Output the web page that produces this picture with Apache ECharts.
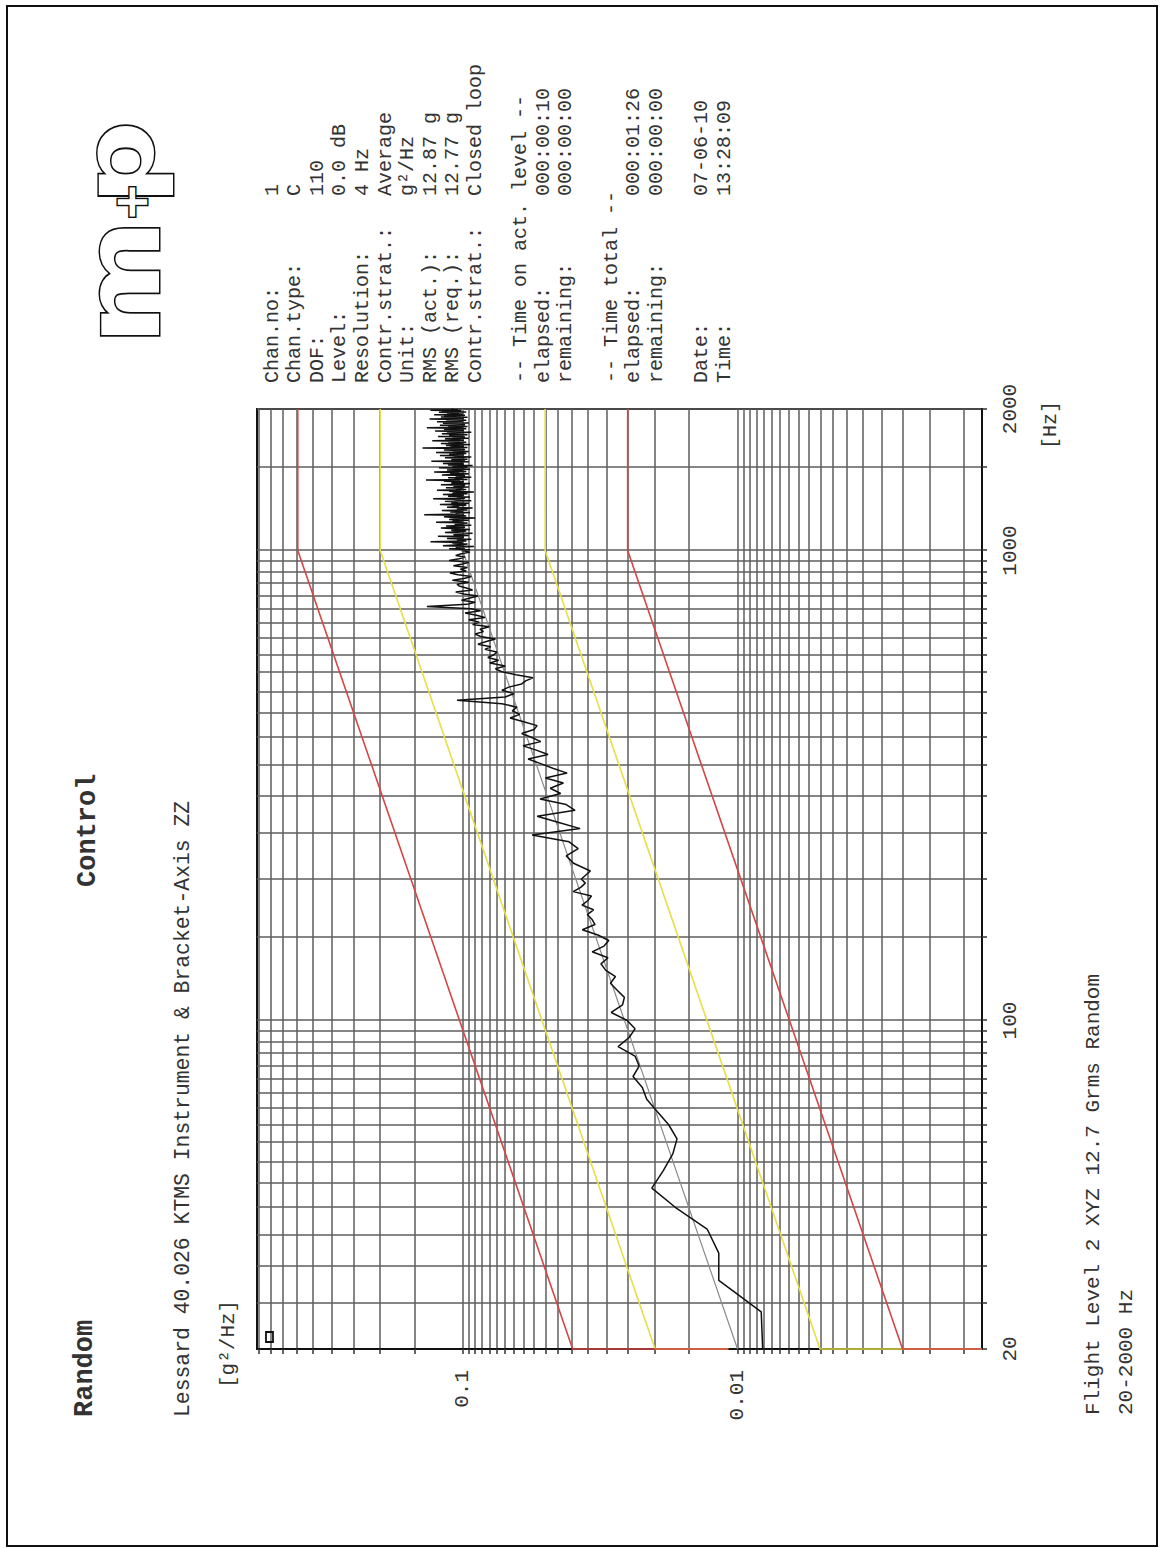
<!DOCTYPE html>
<html>
<head>
<meta charset="utf-8">
<title>Control – Random</title>
<script src="https://cdn.jsdelivr.net/npm/echarts@6/dist/echarts.min.js"></script>
<style>
  html, body { margin: 0; padding: 0; width: 1160px; height: 1548px; overflow: hidden; background: #fff; }
  /* the report sheet is laid out in landscape and turned onto the portrait page */
  #sheet {
    position: absolute; left: 0; top: 0;
    width: 1548px; height: 1160px;
    transform-origin: 0 0;
    transform: translate(0px, 1548px) rotate(-90deg);
  }
</style>
</head>
<body>
<div id="sheet"></div>
<script>
// ---- axes ----
const FREQ_MIN = 20, FREQ_MAX = 2000;          // Hz
const PSD_MIN = 0.00129, PSD_MAX = 0.56;       // g²/Hz

const freqGrid = [20, 25, 30, 35, 40, 45, 50, 55, 60, 65, 70, 75, 80, 85, 90, 95, 100,
  150, 200, 250, 300, 350, 400, 450, 500, 550, 600, 650, 700, 750, 800, 850, 900, 950, 1000,
  1500, 2000];
const freqTickLabels = [20, 100, 1000, 2000];

const psdGrid = [0.0015, 0.002, 0.0025, 0.003, 0.0035, 0.004, 0.0045, 0.005, 0.0055, 0.006,
  0.0065, 0.007, 0.0075, 0.008, 0.0085, 0.009, 0.0095,
  0.01, 0.015, 0.02, 0.025, 0.03, 0.035, 0.04, 0.045, 0.05, 0.055, 0.06, 0.065, 0.07, 0.075,
  0.08, 0.085, 0.09, 0.095,
  0.1, 0.15, 0.2, 0.25, 0.3, 0.35, 0.4, 0.45, 0.5, 0.55];
const psdTickLabels = [0.01, 0.1];

// ---- reference profile and tolerance bands ----
const refFreq = [20, 1000, 2000];
const refPsd = [0.01, 0.1, 0.1];

const limitFreq = [20, 20, 1000, 2000];
const abortHigh = [0.0108, 0.0398, 0.398, 0.398];
const alarmHigh = [0.0108, 0.01995, 0.1995, 0.1995];
const alarmLow = [PSD_MIN, 0.00501, 0.0501, 0.0501];
const abortLow = [PSD_MIN, 0.00251, 0.0251, 0.0251];

// ---- measured control spectrum ----
const lowFreq = [20, 24, 28, 32, 36, 40, 44, 48, 52, 56, 60, 64, 68, 72, 76, 80, 84, 88, 92, 96,
  100, 104, 108, 112, 116, 120, 124, 128, 132, 136, 140, 144, 148, 152, 156, 160, 164, 168,
  172, 176, 180, 184, 188, 192, 196];
const lowPsd = [0.0081, 0.0082, 0.0117, 0.0117, 0.0129, 0.0168, 0.0205, 0.0186, 0.0172, 0.0166,
  0.0178, 0.0196, 0.0214, 0.0222, 0.0240, 0.0228, 0.0236, 0.0272, 0.0248, 0.0236,
  0.0252, 0.0288, 0.0262, 0.0258, 0.0274, 0.0290, 0.0278, 0.0302, 0.0314, 0.0296,
  0.0338, 0.0306, 0.0294, 0.0322, 0.0367, 0.0330, 0.0338, 0.0352, 0.0334, 0.0368,
  0.0350, 0.0340, 0.0396, 0.0372, 0.0358];

// 200 … 600 Hz, 8 Hz line spacing
const midStart = 200, midStep = 8;
const midPsd = [0.0370, 0.0343, 0.0395, 0.0420, 0.0380, 0.0410, 0.0559, 0.0374, 0.0450, 0.0536,
  0.0390, 0.0420, 0.0523, 0.0440, 0.0480, 0.0430, 0.0500, 0.0417, 0.0470, 0.0520,
  0.0578, 0.0489, 0.0540, 0.0603, 0.0520, 0.0560, 0.0610, 0.0550, 0.0536, 0.0600,
  0.0672, 0.0620, 0.0660, 0.0634, 0.0720, 0.1048, 0.0700, 0.0650, 0.0720, 0.0680,
  0.0610, 0.0590, 0.0555, 0.0640, 0.0720, 0.0760, 0.0700, 0.0796, 0.0740, 0.0810,
  0.0770];

// 608 … 992 Hz, 8 Hz line spacing
const upStart = 608, upStep = 8;
const upPsd = [
  0.0750, 0.0830, 0.0790, 0.0880, 0.0820, 0.0760, 0.0860, 0.0900, 0.0840, 0.0865,
  0.0800, 0.0920, 0.0870, 0.0950, 0.0830, 0.0890, 0.0980, 0.0860, 0.0930, 0.1349,
  0.0965, 0.0900, 0.1010, 0.0940, 0.0880, 0.0990, 0.1060, 0.0920, 0.0970, 0.1030,
  0.1048, 0.0950, 0.1090, 0.0990, 0.0930, 0.1040, 0.1113, 0.0970, 0.1020, 0.0960,
  0.1080, 0.1000, 0.0950, 0.1120, 0.1030, 0.0980, 0.1060, 0.1010, 0.0940];

// 1000 … 2000 Hz, 4 Hz line spacing
const topStart = 1000, topStep = 4;
const topPsd = [
  0.1010, 0.0940, 0.1120, 0.0980, 0.1060, 0.0910, 0.1180, 0.1020, 0.0960, 0.1090,
  0.1000, 0.1310, 0.0970, 0.1050, 0.0930, 0.1140, 0.1010, 0.0990, 0.1230, 0.0950,
  0.1080, 0.1020, 0.0920, 0.1160, 0.1040, 0.0970, 0.1100, 0.0940, 0.1060, 0.1200,
  0.0980, 0.1030, 0.1150, 0.0930, 0.1070, 0.1010, 0.0960, 0.1250, 0.1000, 0.1090,
  0.0950, 0.1120, 0.1040, 0.0900, 0.1080, 0.1170, 0.0970, 0.1030, 0.1380, 0.0990,
  0.1060, 0.0940, 0.1110, 0.1000, 0.1190, 0.0960, 0.1050, 0.1010, 0.0920, 0.1140,
  0.1030, 0.1090, 0.0970, 0.1210, 0.1000, 0.0950, 0.1100, 0.1040, 0.1160, 0.0930,
  0.1070, 0.1010, 0.1280, 0.0980, 0.1050, 0.0940, 0.1130, 0.1020, 0.0990, 0.1180,
  0.0960, 0.1090, 0.1040, 0.0910, 0.1120, 0.1010, 0.1240, 0.0970, 0.1060, 0.1000,
  0.1150, 0.0950, 0.1080, 0.1030, 0.0980, 0.1200, 0.1010, 0.0940, 0.1100, 0.1050,
  0.0990, 0.1170, 0.1020, 0.1360, 0.0960, 0.1070, 0.1000, 0.1130, 0.0930, 0.1060,
  0.1040, 0.0980, 0.1190, 0.1010, 0.0950, 0.1110, 0.1030, 0.1270, 0.0970, 0.1080,
  0.1000, 0.1140, 0.0940, 0.1060, 0.1020, 0.1220, 0.0960, 0.1090, 0.1010, 0.0920,
  0.1130, 0.1040, 0.0990, 0.1180, 0.1000, 0.1070, 0.0950, 0.1300, 0.1020, 0.0980,
  0.1100, 0.0960, 0.1050, 0.1010, 0.1160, 0.0930, 0.1080, 0.1030, 0.1210, 0.0990,
  0.1060, 0.1120, 0.0970, 0.1040, 0.1250, 0.1000, 0.0950, 0.1090, 0.1020, 0.1170,
  0.0980, 0.1070, 0.1010, 0.1400, 0.0960, 0.1110, 0.1030, 0.0990, 0.1150, 0.1040,
  0.0940, 0.1080, 0.1200, 0.1000, 0.1060, 0.0970, 0.1130, 0.1020, 0.1290, 0.0990,
  0.1050, 0.1010, 0.1160, 0.0950, 0.1090, 0.1030, 0.0980, 0.1230, 0.1000, 0.1070,
  0.1120, 0.0960, 0.1040, 0.1190, 0.1010, 0.1080, 0.0930, 0.1140, 0.1030, 0.1260,
  0.0990, 0.1060, 0.1020, 0.1170, 0.0970, 0.1100, 0.1350, 0.1000, 0.1050, 0.0960,
  0.1130, 0.1040, 0.1210, 0.0980, 0.1070, 0.1010, 0.1180, 0.0950, 0.1090, 0.1030,
  0.1240, 0.1000, 0.1060, 0.0970, 0.1150, 0.1020, 0.1320, 0.0990, 0.1080, 0.1110,
  0.0960, 0.1200, 0.1040, 0.1010, 0.1170, 0.0980, 0.1270, 0.1050, 0.1000, 0.1140,
  0.1030, 0.1090, 0.1220, 0.0970, 0.1060, 0.1190, 0.1010, 0.1310, 0.1040, 0.1100,
  0.1080];

// ---- header / info block ----
const infoRows = [
  ['Chan.no:', '1'],
  ['Chan.type:', 'C'],
  ['DOF:', '110'],
  ['Level:', '0.0 dB'],
  ['Resolution:', '4 Hz'],
  ['Contr.strat.:', 'Average'],
  ['Unit:', 'g²/Hz'],
  ['RMS (act.):', '12.87 g'],
  ['RMS (req.):', '12.77 g'],
  ['Contr.strat.:', 'Closed loop'],
  null,
  ['-- Time on act. level --', ''],
  ['elapsed:', '000:00:10'],
  ['remaining:', '000:00:00'],
  null,
  ['-- Time total --', ''],
  ['elapsed:', '000:01:26'],
  ['remaining:', '000:00:00'],
  null,
  ['Date:', '07-06-10'],
  ['Time:', '13:28:09']
];

// ---- helpers ----
const lg = Math.log10;
const toPairs = (fs, ps) => ps.map((p, i) => [lg(fs[i]), lg(p)]);
const stepPairs = (start, step, ps) => ps.map((p, i) => [lg(start + step * i), lg(p)]);
const nearest = (v, list) => list.reduce((b, x) => Math.abs(lg(x) - v) < Math.abs(lg(b) - v) ? x : b);

const MONO = '"Liberation Mono", "DejaVu Sans Mono", monospace';
const INK = '#333';

function txt(text, x, y, size, opts) {
  opts = opts || {};
  return {
    type: 'text', silent: true, z: 10,
    style: {
      text: text, x: x, y: y,
      font: (opts.weight || 'normal') + ' ' + size + 'px ' + (opts.family || MONO),
      fill: opts.fill || INK,
      align: opts.align || 'left', textAlign: opts.align || 'left',
      verticalAlign: 'middle', textVerticalAlign: 'middle'
    }
  };
}

const graphics = [];
// sheet frame
graphics.push({ type: 'rect', silent: true, z: 0,
  shape: { x: 2, y: 7, width: 1540, height: 1150 },
  style: { fill: 'none', stroke: '#111', lineWidth: 2 } });

graphics.push(txt('Random', 131, 85, 27, { weight: 'bold' }));
graphics.push(txt('Control', 661, 88, 27, { weight: 'bold' }));
graphics.push(txt('Lessard 40.026 KTMS Instrument & Bracket-Axis ZZ', 131, 183, 21.4));
graphics.push(txt('[g²/Hz]', 160, 228, 21));
graphics.push(txt('[Hz]', 1123, 1050, 20, { align: 'center' }));
graphics.push(txt('Flight Level 2 XYZ 12.7 Grms Random', 133, 1093, 21));
graphics.push(txt('20-2000 Hz', 133, 1126, 21));

infoRows.forEach((row, i) => {
  if (!row) return;
  const y = 272 + 22.6 * i;
  graphics.push(txt(row[0], 1165, y, 20));
  if (row[1]) graphics.push(txt(row[1], 1352, y, 20));
});

// company mark
const LOGO = { fill: '#fff', stroke: '#111', lineWidth: 3 };
graphics.push({ type: 'text', silent: true, z: 10, x: 1203, y: 123, scaleX: 1.15,
  style: Object.assign({ text: 'm', x: 0, y: 0, font: 'bold 105px "DejaVu Sans"',
    align: 'left', textAlign: 'left', verticalAlign: 'middle', textVerticalAlign: 'middle' }, LOGO) });
graphics.push({ type: 'text', silent: true, z: 11, x: 1346, y: 131,
  style: Object.assign({ text: '+', x: 0, y: 0, font: 'bold 46px "DejaVu Sans"',
    align: 'center', textAlign: 'center', verticalAlign: 'middle', textVerticalAlign: 'middle' }, LOGO) });
graphics.push({ type: 'text', silent: true, z: 10, x: 1343, y: 120, scaleX: 1.2,
  style: Object.assign({ text: 'p', x: 0, y: 0, font: 'bold 98px "DejaVu Sans"',
    align: 'left', textAlign: 'left', verticalAlign: 'middle', textVerticalAlign: 'middle' }, LOGO) });

// small marker in the plot corner
graphics.push({ type: 'rect', silent: true, z: 10,
  shape: { x: 206, y: 266, width: 10, height: 7 },
  style: { fill: 'none', stroke: '#111', lineWidth: 1.8 } });

function lineSeries(data, color, width, z) {
  return {
    type: 'line', data: data, showSymbol: false, symbol: 'none', silent: true,
    animation: false, z: z, lineStyle: { color: color, width: width }
  };
}

const chart = echarts.init(document.getElementById('sheet'), null,
  { renderer: 'svg', width: 1548, height: 1160 });

chart.setOption({
  animation: false,
  backgroundColor: '#fff',
  grid: {
    left: 199, top: 257, width: 940, height: 725,
    show: true, borderColor: '#111', borderWidth: 2, backgroundColor: '#fff',
    containLabel: false, outerBoundsMode: 'none'
  },
  xAxis: {
    type: 'value', min: lg(FREQ_MIN), max: lg(FREQ_MAX),
    axisLine: { show: true, onZero: false, lineStyle: { color: '#111', width: 2 } },
    axisTick: { show: true, inside: false, length: 5, customValues: freqGrid.map(lg),
      lineStyle: { color: '#333', width: 1.5 } },
    splitLine: { show: true, lineStyle: { color: '#5e5e5e', width: 1.5 } },
    axisLabel: { show: true, customValues: freqTickLabels.map(lg), margin: 18,
      formatter: v => String(nearest(v, freqTickLabels)),
      fontFamily: MONO, fontSize: 21, color: INK }
  },
  yAxis: {
    type: 'value', min: lg(PSD_MIN), max: lg(PSD_MAX),
    axisLine: { show: true, onZero: false, lineStyle: { color: '#111', width: 2 } },
    axisTick: { show: true, inside: false, length: 5, customValues: psdGrid.map(lg),
      lineStyle: { color: '#333', width: 1.5 } },
    splitLine: { show: true, lineStyle: { color: '#5e5e5e', width: 1.5 } },
    axisLabel: { show: true, customValues: psdTickLabels.map(lg), margin: 21,
      formatter: v => String(nearest(v, psdTickLabels)),
      fontFamily: MONO, fontSize: 21, color: INK }
  },
  graphic: graphics,
  series: [
    lineSeries(toPairs(limitFreq, alarmLow), '#e6df45', 1.6, 3),
    lineSeries(toPairs(limitFreq, alarmHigh), '#e6df45', 1.6, 3),
    lineSeries(toPairs(limitFreq, abortLow), '#d64545', 1.6, 4),
    lineSeries(toPairs(limitFreq, abortHigh), '#d64545', 1.6, 4),
    lineSeries(toPairs(refFreq, refPsd), '#8a8a8a', 1.2, 5),
    lineSeries(toPairs(lowFreq, lowPsd)
      .concat(stepPairs(midStart, midStep, midPsd))
      .concat(stepPairs(upStart, upStep, upPsd))
      .concat(stepPairs(topStart, topStep, topPsd)), '#111', 1.5, 6)
  ]
});
</script>
</body>
</html>
